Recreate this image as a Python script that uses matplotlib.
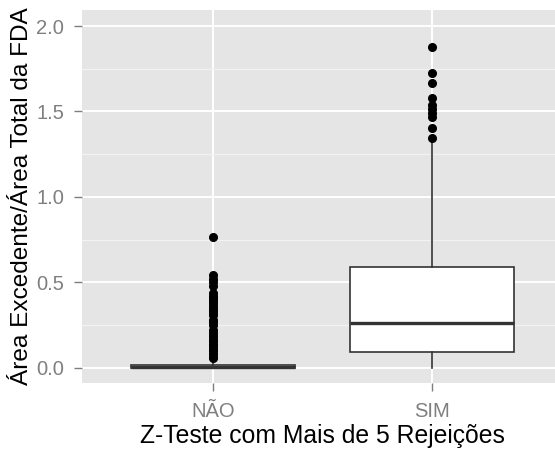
import matplotlib
matplotlib.use("Agg")
import matplotlib.pyplot as plt

plt.rcParams['font.family'] = ['Liberation Sans', 'DejaVu Sans']

categories = ["NÃO", "SIM"]
q1 = [0.0, 0.092]
median = [0.005, 0.262]
q3 = [0.015, 0.587]
whisker_low = [0.0, 0.0]
whisker_high = [0.04, 1.32]
outliers_nao = [0.766, 0.541, 0.52, 0.50, 0.48, 0.435, 0.42, 0.405, 0.395, 0.377,
                0.36, 0.345, 0.33, 0.315, 0.307, 0.278, 0.265, 0.248, 0.219, 0.20,
                0.185, 0.17, 0.155, 0.14, 0.125, 0.11, 0.095, 0.08, 0.065, 0.055]
outliers_sim = [1.880, 1.724, 1.666, 1.578, 1.538, 1.515, 1.49, 1.465, 1.405, 1.347]
yticks = [0.0, 0.5, 1.0, 1.5, 2.0]
ytick_labels = ["0.0", "0.5", "1.0", "1.5", "2.0"]
xlabel = "Z-Teste com Mais de 5 Rejeições"
ylabel = "Área Excedente/Área Total da FDA"

outliers = [outliers_nao, outliers_sim]
stats = []
for i, c in enumerate(categories):
    stats.append(dict(label=c, q1=q1[i], med=median[i], q3=q3[i],
                      whislo=whisker_low[i], whishi=whisker_high[i],
                      fliers=outliers[i]))

fig = plt.figure(figsize=(5.55, 4.53), dpi=100)
ax = fig.add_axes([82/555, 70/453, 481/555, 373/453])
ax.set_facecolor('#E5E5E5')

edge = '#333333'
ax.bxp(stats, positions=[1, 2], widths=0.75, patch_artist=True, showcaps=False,
       boxprops=dict(facecolor='white', edgecolor=edge, linewidth=1.2),
       medianprops=dict(color=edge, linewidth=2.4),
       whiskerprops=dict(color=edge, linewidth=1.2),
       flierprops=dict(marker='o', markerfacecolor='black', markeredgecolor='black',
                       markersize=5.5, linestyle='none'),
       zorder=3)

ax.set_xlim(0.4, 2.6)
ax.set_ylim(-0.09, 2.094)
ax.set_yticks(yticks)
ax.set_yticklabels(ytick_labels)
ax.set_yticks([0.25, 0.75, 1.25, 1.75], minor=True)
ax.set_xticks([1, 2])
ax.set_xticklabels(categories)

ax.set_axisbelow(True)
ax.grid(True, which='major', color='white', linewidth=1.4)
ax.grid(True, which='minor', axis='y', color='#F2F2F2', linewidth=0.9)
for s in ax.spines.values():
    s.set_visible(False)

ax.tick_params(axis='both', which='major', colors='#7F7F7F', labelcolor='#7F7F7F',
               length=5.5, width=1.0, labelsize=14.5)
ax.tick_params(axis='y', which='major', pad=7.5)
ax.tick_params(axis='x', which='major', pad=8)
ax.tick_params(axis='y', which='minor', length=0)

ax.set_xlabel(xlabel, fontsize=17.8, color='black', labelpad=2)
ax.set_ylabel(ylabel, fontsize=17.6, color='black', labelpad=2)

fig.savefig("out.png", dpi=100)
